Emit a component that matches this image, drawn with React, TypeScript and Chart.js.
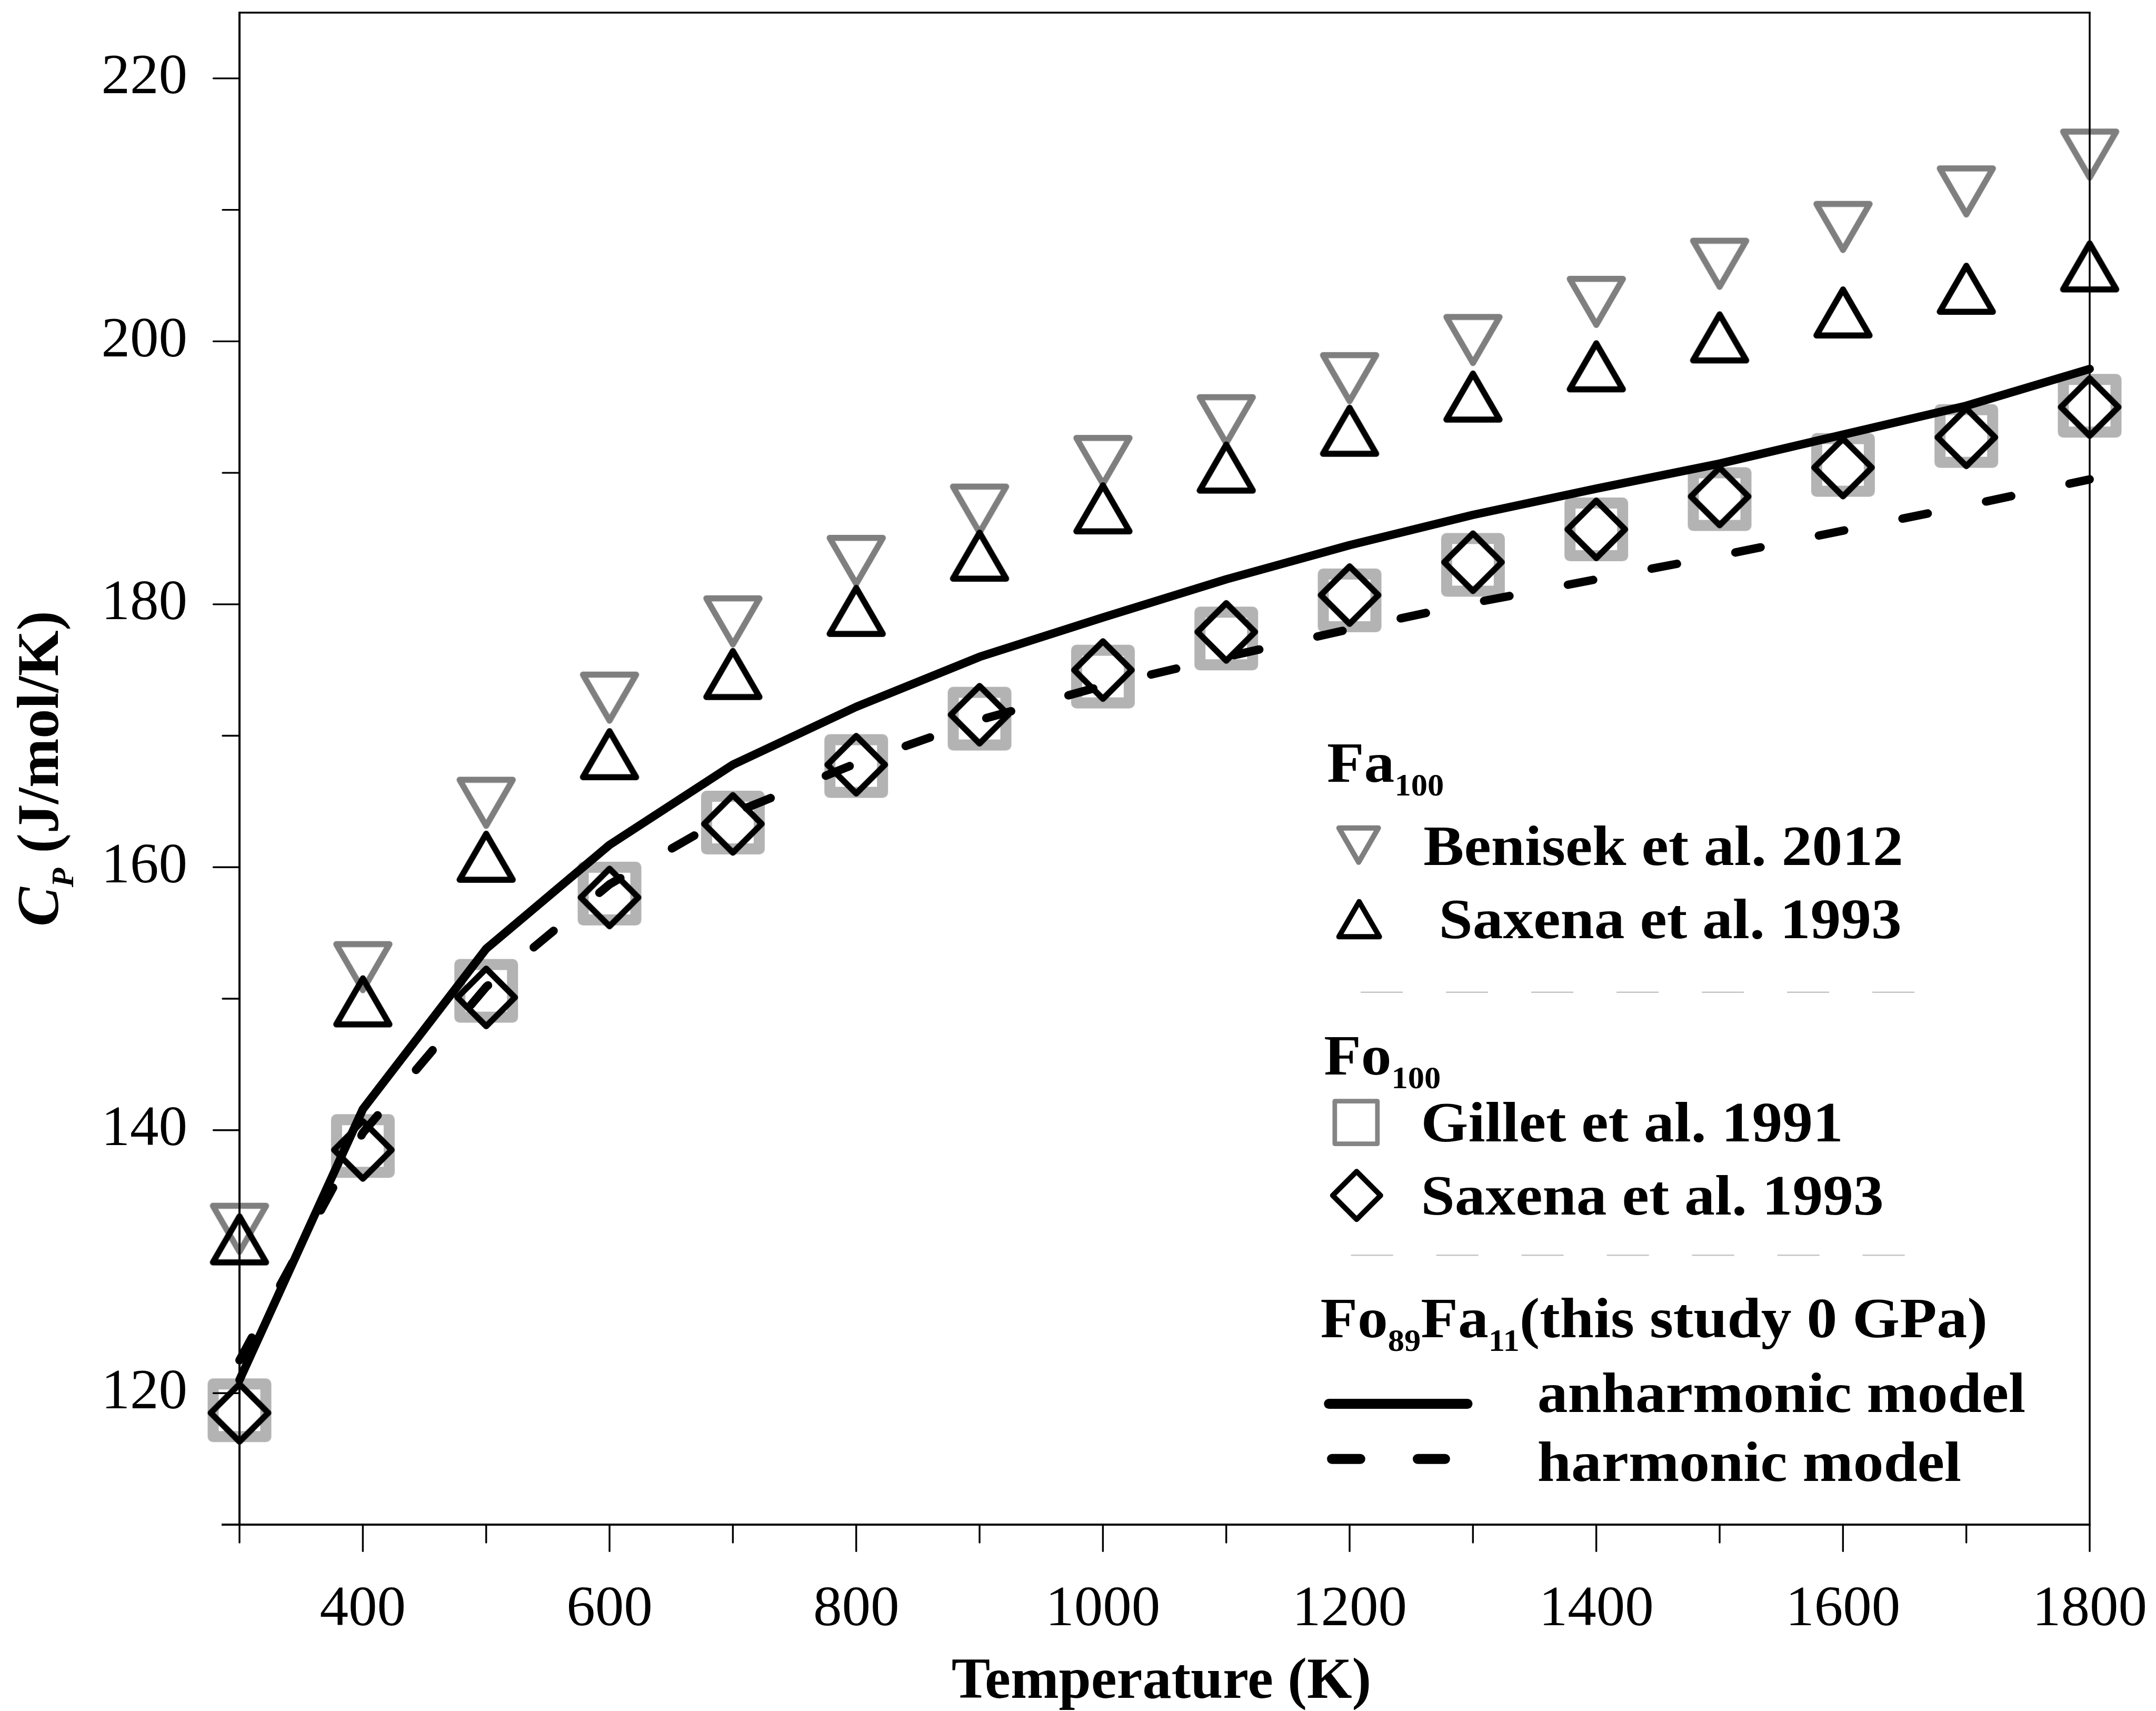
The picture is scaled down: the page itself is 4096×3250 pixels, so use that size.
import React, { useEffect, useRef } from 'react';
import { Chart, registerables } from 'chart.js';

Chart.register(...registerables);

// ---------------- data ----------------
const TEMPS = [300, 400, 500, 600, 700, 800, 900, 1000, 1100, 1200, 1300, 1400, 1500, 1600, 1700, 1800];
const BENISEK_FA_2012 = [132.5, 152.4, 164.9, 172.9, 178.7, 183.3, 187.2, 190.9, 194.0, 197.2, 200.1, 203.0, 205.9, 208.7, 211.4, 214.2];
const SAXENA_FA_1993 = [131.7, 149.8, 160.8, 168.6, 174.7, 179.5, 183.7, 187.3, 190.4, 193.2, 195.8, 198.1, 200.3, 202.2, 204.0, 205.7];
const GILLET_FO_1991 = [118.7, 138.8, 150.6, 158.0, 163.4, 167.7, 171.3, 174.5, 177.4, 180.3, 183.0, 185.7, 188.0, 190.6, 192.8, 195.1];
const SAXENA_FO_1993 = [118.5, 138.5, 150.1, 157.7, 163.3, 167.8, 171.6, 175.0, 177.9, 180.7, 183.2, 185.7, 188.2, 190.4, 192.7, 195.0];
const ANHARMONIC = [121.0, 141.6, 153.8, 161.7, 167.8, 172.2, 176.0, 179.0, 181.9, 184.5, 186.8, 188.8, 190.7, 192.9, 195.1, 197.9];
const HARMONIC = [122.5, 139.8, 150.9, 158.7, 164.1, 167.9, 171.2, 173.8, 176.0, 178.1, 180.1, 181.9, 183.7, 185.6, 187.5, 189.5];

const X_MIN = 300;
const X_MAX = 1800;
const Y_MIN = 110;
const Y_MAX = 225;
const X_MAJOR_TICKS = [400, 600, 800, 1000, 1200, 1400, 1600, 1800];
const X_MINOR_TICKS = [300, 500, 700, 900, 1100, 1300, 1500, 1700];
const Y_MAJOR_TICKS = [120, 140, 160, 180, 200, 220];
const Y_MINOR_TICKS = [130, 150, 170, 190, 210];

const X_TITLE = 'Temperature (K)';
const Y_TITLE = [
  { t: 'C', italic: true },
  { t: 'P', italic: true, sub: true },
  { t: ' (J/mol/K)' },
];
const FA_HEADING = [{ t: 'Fa' }, { t: '100', sub: true }];
const FO_HEADING = [{ t: 'Fo' }, { t: '100', sub: true }];
const STUDY_HEADING = [
  { t: 'Fo' },
  { t: '89', sub: true },
  { t: 'Fa' },
  { t: '11', sub: true },
  { t: '(this study 0 GPa)' },
];
const LABEL_BENISEK = 'Benisek et al. 2012';
const LABEL_SAXENA_FA = 'Saxena et al. 1993';
const LABEL_GILLET = 'Gillet et al. 1991';
const LABEL_SAXENA_FO = 'Saxena et al. 1993';
const LABEL_ANH = 'anharmonic model';
const LABEL_HARM = 'harmonic model';

// ---------------- layout / style ----------------
const S = 0.97;
const W = 4096;
const H = 3250;
const PLOT_LEFT = 455;
const PLOT_RIGHT = 3970;
const PLOT_TOP = 24;
const PLOT_BOTTOM = 2896;
const FONT = '"Liberation Serif", "Times New Roman", Times, serif';
const LEGEND_STRETCH = 1.06;

type Part = { t: string; sub?: boolean; italic?: boolean };

function drawMarker(
  ctx: CanvasRenderingContext2D,
  kind: string,
  cx: number,
  cy: number,
  size: number,
  lw: number,
  color: string
) {
  ctx.save();
  ctx.strokeStyle = color;
  ctx.lineWidth = lw;
  ctx.lineJoin = 'round';
  ctx.beginPath();
  if (kind === 'up' || kind === 'down') {
    const h = (size * Math.sqrt(3)) / 2;
    if (kind === 'up') {
      ctx.moveTo(cx, cy - h / 2);
      ctx.lineTo(cx + size / 2, cy + h / 2);
      ctx.lineTo(cx - size / 2, cy + h / 2);
    } else {
      ctx.moveTo(cx - size / 2, cy - h / 2);
      ctx.lineTo(cx + size / 2, cy - h / 2);
      ctx.lineTo(cx, cy + h / 2);
    }
    ctx.closePath();
  } else if (kind === 'square') {
    ctx.rect(cx - size / 2, cy - size / 2, size, size);
  } else {
    const hf = size / 2;
    ctx.moveTo(cx, cy - hf);
    ctx.lineTo(cx + hf, cy);
    ctx.lineTo(cx, cy + hf);
    ctx.lineTo(cx - hf, cy);
    ctx.closePath();
  }
  ctx.stroke();
  ctx.restore();
}

function makeMarker(kind: string, size: number, lw: number, color: string): HTMLCanvasElement {
  const c = document.createElement('canvas');
  const dim = Math.ceil(size + lw + 10);
  c.width = dim;
  c.height = dim;
  const ctx = c.getContext('2d') as CanvasRenderingContext2D;
  drawMarker(ctx, kind, dim / 2, dim / 2, size, lw, color);
  return c;
}

function richText(
  ctx: CanvasRenderingContext2D,
  parts: Part[],
  x: number,
  y: number,
  size: number,
  subSize: number,
  subShift: number,
  sx: number
) {
  ctx.save();
  ctx.translate(x, y);
  ctx.scale(sx, 1);
  let cx = 0;
  for (const p of parts) {
    ctx.font = `${p.italic ? 'italic ' : ''}bold ${p.sub ? subSize : size}px ${FONT}`;
    ctx.fillText(p.t, cx, p.sub ? subShift : 0);
    cx += ctx.measureText(p.t).width;
  }
  ctx.restore();
}

function richWidth(ctx: CanvasRenderingContext2D, parts: Part[], size: number, subSize: number) {
  let w = 0;
  for (const p of parts) {
    ctx.font = `${p.italic ? 'italic ' : ''}bold ${p.sub ? subSize : size}px ${FONT}`;
    w += ctx.measureText(p.t).width;
  }
  return w;
}

function pts(xs: number[], ys: number[]) {
  return xs.map((x, i) => ({ x, y: ys[i] }));
}

const R = (v: number) => v * S;

function drawLegend(ctx: CanvasRenderingContext2D) {
  ctx.save();
  ctx.fillStyle = '#000';
  ctx.textBaseline = 'alphabetic';
  const main = 109;
  const sub = 59;
  const shift = 26;
  const sx = LEGEND_STRETCH;
  const plain = (t: string, x: number, y: number) => richText(ctx, [{ t }], x, y, main, sub, shift, sx);

  // Fa100 group
  richText(ctx, FA_HEADING, R(2599), R(1531), main, sub, shift, sx);
  drawMarker(ctx, 'down', R(2661), R(1655), 75, 10, '#7f7f7f');
  plain(LABEL_BENISEK, R(2788), R(1694));
  drawMarker(ctx, 'up', R(2662), R(1800), 77, 10, '#000');
  plain(LABEL_SAXENA_FA, R(2818), R(1837));

  // separators
  ctx.save();
  ctx.strokeStyle = '#c4c4c4';
  ctx.lineWidth = 2.5;
  ctx.setLineDash([80, 82]);
  ctx.beginPath();
  ctx.moveTo(R(2665), R(1943));
  ctx.lineTo(R(3750), R(1943));
  ctx.moveTo(R(2646), R(2458));
  ctx.lineTo(R(3733), R(2458));
  ctx.stroke();
  ctx.restore();

  // Fo100 group
  richText(ctx, FO_HEADING, R(2593), R(2104), main, sub, shift, sx);
  drawMarker(ctx, 'square', R(2656), R(2198), 81, 8.7, '#858585');
  plain(LABEL_GILLET, R(2783), R(2235));
  drawMarker(ctx, 'diamond', R(2657), R(2341), 91, 10, '#000');
  plain(LABEL_SAXENA_FO, R(2783), R(2378));

  // this study
  richText(ctx, STUDY_HEADING, R(2586), R(2619), main, sub, shift, sx);
  ctx.save();
  ctx.strokeStyle = '#000';
  ctx.lineWidth = 19;
  ctx.lineCap = 'round';
  ctx.beginPath();
  ctx.moveTo(R(2593) + 9.5, R(2749));
  ctx.lineTo(R(2884) - 9.5, R(2749));
  ctx.stroke();
  ctx.beginPath();
  ctx.moveTo(R(2599) + 9.5, R(2857));
  ctx.lineTo(R(2674) - 9.5, R(2857));
  ctx.moveTo(R(2767) + 9.5, R(2857));
  ctx.lineTo(R(2840) - 9.5, R(2857));
  ctx.stroke();
  ctx.restore();
  plain(LABEL_ANH, R(3011), R(2765));
  plain(LABEL_HARM, R(3011), R(2900));
  ctx.restore();
}

const framePlugin = {
  id: 'frame',
  beforeDraw(chart: any) {
    const ctx = chart.ctx as CanvasRenderingContext2D;
    ctx.save();
    ctx.fillStyle = '#ffffff';
    ctx.fillRect(0, 0, chart.width, chart.height);
    ctx.restore();
  },
  afterDatasetsDraw(chart: any) {
    const ctx = chart.ctx as CanvasRenderingContext2D;
    const a = chart.chartArea;
    const xs = chart.scales.x;
    const ys = chart.scales.y;
    const line = (x1: number, y1: number, x2: number, y2: number) => {
      ctx.beginPath();
      ctx.moveTo(x1, y1);
      ctx.lineTo(x2, y2);
      ctx.stroke();
    };
    ctx.save();
    ctx.strokeStyle = '#000';
    ctx.lineCap = 'butt';
    ctx.lineWidth = 3.5;
    line(a.left, a.top, a.right + 1.75, a.top);
    line(a.right, a.top, a.right, a.bottom);
    ctx.lineWidth = 4;
    line(a.left, a.top - 1.75, a.left, a.bottom);
    line(a.left - 34, a.bottom, a.right + 1.75, a.bottom);
    ctx.lineWidth = 3.4;
    ctx.lineCap = 'round';
    Y_MAJOR_TICKS.forEach((v) => {
      const p = ys.getPixelForValue(v);
      line(a.left - 49.5, p, a.left, p);
    });
    Y_MINOR_TICKS.forEach((v) => {
      const p = ys.getPixelForValue(v);
      line(a.left - 32, p, a.left, p);
    });
    X_MAJOR_TICKS.forEach((v) => {
      const p = xs.getPixelForValue(v);
      line(p, a.bottom, p, a.bottom + 50.4);
    });
    X_MINOR_TICKS.forEach((v) => {
      const p = xs.getPixelForValue(v);
      line(p, a.bottom, p, a.bottom + 34);
    });
    ctx.restore();
  },
  afterDraw(chart: any) {
    const ctx = chart.ctx as CanvasRenderingContext2D;
    const a = chart.chartArea;
    ctx.save();
    ctx.fillStyle = '#000';
    ctx.textBaseline = 'alphabetic';
    // x title
    ctx.font = `bold 110px ${FONT}`;
    ctx.textAlign = 'center';
    ctx.fillText(X_TITLE, (a.left + a.right) / 2 - 6, R(3325));
    ctx.textAlign = 'left';
    // y title (rotated)
    const ySize = 112;
    const ySub = 60;
    const w = richWidth(ctx, Y_TITLE, ySize, ySub);
    ctx.save();
    ctx.translate(R(113), (a.top + a.bottom) / 2);
    ctx.rotate(-Math.PI / 2);
    richText(ctx, Y_TITLE, -w / 2, 0, ySize, ySub, 29, 1);
    ctx.restore();
    ctx.restore();
    drawLegend(ctx);
  },
};

const zeroPad = (ax: any) => {
  ax.paddingTop = 0;
  ax.paddingBottom = 0;
  ax.paddingLeft = 0;
  ax.paddingRight = 0;
};

export default function App() {
  const ref = useRef<HTMLCanvasElement | null>(null);

  useEffect(() => {
    const canvas = ref.current;
    if (!canvas) return;
    const downImg = makeMarker('down', 101, 11.5, '#7f7f7f');
    const upImg = makeMarker('up', 101, 11.5, '#000000');
    const squareImg = makeMarker('square', 100, 21, '#b3b3b3');
    const diamondImg = makeMarker('diamond', 109.4, 11.6, '#000000');

    const markerSet = (label: string, ys: number[], img: HTMLCanvasElement) => ({
      label,
      data: pts(TEMPS, ys),
      showLine: false,
      pointStyle: img,
      pointRadius: 10,
      pointBorderWidth: 0,
      clip: false,
    });

    const chart = new Chart(canvas, {
      type: 'scatter',
      data: {
        datasets: [
          {
            label: LABEL_ANH,
            data: pts(TEMPS, ANHARMONIC),
            showLine: true,
            borderColor: '#000000',
            borderWidth: 16,
            borderCapStyle: 'round',
            borderJoinStyle: 'round',
            pointRadius: 0,
            clip: false,
          },
          {
            label: LABEL_HARM,
            data: pts(TEMPS, HARMONIC),
            showLine: true,
            borderColor: '#000000',
            borderWidth: 16,
            borderDash: [49, 113],
            borderCapStyle: 'round',
            borderJoinStyle: 'round',
            pointRadius: 0,
            clip: false,
          },
          markerSet(LABEL_SAXENA_FA, SAXENA_FA_1993, upImg),
          markerSet(LABEL_BENISEK, BENISEK_FA_2012, downImg),
          markerSet(LABEL_SAXENA_FO, SAXENA_FO_1993, diamondImg),
          markerSet(LABEL_GILLET, GILLET_FO_1991, squareImg),
        ] as any,
      },
      options: {
        responsive: false,
        animation: false,
        devicePixelRatio: 1,
        events: [],
        layout: { padding: { left: 0, right: W - PLOT_RIGHT, top: PLOT_TOP, bottom: 0 } },
        plugins: {
          legend: { display: false },
          tooltip: { enabled: false },
          title: { display: false },
        },
        scales: {
          x: {
            type: 'linear',
            min: X_MIN,
            max: X_MAX,
            grid: { display: false, drawTicks: false },
            border: { display: false },
            afterBuildTicks: (ax: any) => {
              ax.ticks = X_MAJOR_TICKS.map((v) => ({ value: v }));
            },
            afterFit: (ax: any) => {
              ax.height = H - PLOT_BOTTOM;
              zeroPad(ax);
            },
            ticks: {
              autoSkip: false,
              maxRotation: 0,
              minRotation: 0,
              padding: 97,
              color: '#000000',
              font: { family: FONT, size: 109 },
              callback: (v: any) => String(v),
            },
          },
          y: {
            type: 'linear',
            min: Y_MIN,
            max: Y_MAX,
            grid: { display: false, drawTicks: false },
            border: { display: false },
            afterBuildTicks: (ax: any) => {
              ax.ticks = Y_MAJOR_TICKS.map((v) => ({ value: v }));
            },
            afterFit: (ax: any) => {
              ax.width = PLOT_LEFT;
              zeroPad(ax);
            },
            ticks: {
              autoSkip: false,
              padding: 99,
              color: '#000000',
              font: { family: FONT, size: 109 },
              callback: (v: any) => String(v),
            },
          },
        },
      } as any,
      plugins: [framePlugin],
    });
    return () => chart.destroy();
  }, []);

  return (
    <div style={{ position: 'fixed', left: 0, top: 0, width: W, height: H, background: '#fff' }}>
      <canvas ref={ref} width={W} height={H} style={{ display: 'block', width: W, height: H }} />
    </div>
  );
}
